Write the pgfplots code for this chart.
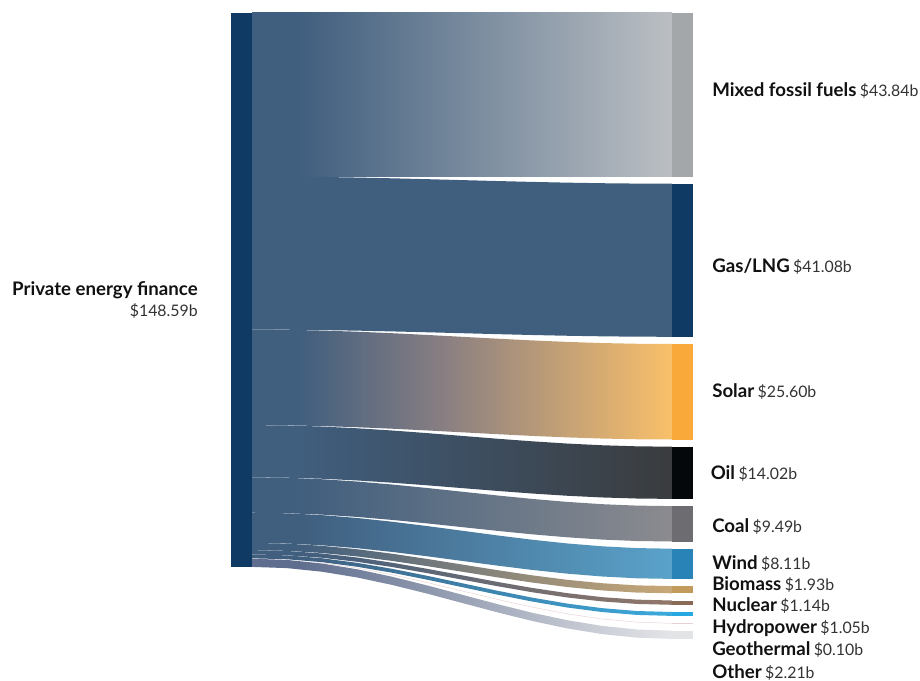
\documentclass[border=0pt]{standalone}
\usepackage{pgfplots}
\pgfplotsset{compat=1.18}
\usepackage{fontspec}
\setmainfont{Lato}
\definecolor{navy}{HTML}{0F3A63}
\definecolor{flowblue}{HTML}{405E7E}
\definecolor{mixednode}{HTML}{A4A7AA}
\definecolor{mixedflow}{HTML}{BBBFC3}
\definecolor{solarnode}{HTML}{F9A93A}
\definecolor{solarflow}{HTML}{F9C06A}
\definecolor{solarmid}{HTML}{8A7F82}
\definecolor{oilnode}{HTML}{05080A}
\definecolor{oilflow}{HTML}{3A3C3E}
\definecolor{coalnode}{HTML}{6D6C71}
\definecolor{coalflow}{HTML}{8B8B8F}
\definecolor{windnode}{HTML}{2A83B7}
\definecolor{windflow}{HTML}{5AA2CA}
\definecolor{bionode}{HTML}{C29A5C}
\definecolor{bioflow}{HTML}{C9A877}
\definecolor{nucnode}{HTML}{8A6A55}
\definecolor{nucflow}{HTML}{927769}
\definecolor{hydronode}{HTML}{27A8E0}
\definecolor{hydroflow}{HTML}{3BAADD}
\definecolor{geoline}{HTML}{E6D2D2}
\definecolor{othernode}{HTML}{E3E4E6}
\definecolor{otherflow}{HTML}{E4E5E8}
\definecolor{otherstart}{HTML}{5F6E8E}
\definecolor{valgray}{HTML}{333333}
\definecolor{lblblack}{HTML}{111111}
\pgfdeclarehorizontalshading{sMixed}{100bp}{color(0bp)=(flowblue); color(30.5bp)=(flowblue); color(75bp)=(mixedflow); color(100bp)=(mixedflow)}
\pgfdeclarehorizontalshading{sSolar}{100bp}{color(0bp)=(flowblue); color(30.5bp)=(flowblue); color(48bp)=(solarmid); color(75bp)=(solarflow); color(100bp)=(solarflow)}
\pgfdeclarehorizontalshading{sOil}{100bp}{color(0bp)=(flowblue); color(30.5bp)=(flowblue); color(75bp)=(oilflow); color(100bp)=(oilflow)}
\pgfdeclarehorizontalshading{sCoal}{100bp}{color(0bp)=(flowblue); color(30.5bp)=(flowblue); color(75bp)=(coalflow); color(100bp)=(coalflow)}
\pgfdeclarehorizontalshading{sWind}{100bp}{color(0bp)=(flowblue); color(30.5bp)=(flowblue); color(75bp)=(windflow); color(100bp)=(windflow)}
\pgfdeclarehorizontalshading{sBio}{100bp}{color(0bp)=(flowblue); color(30.5bp)=(flowblue); color(75bp)=(bioflow); color(100bp)=(bioflow)}
\pgfdeclarehorizontalshading{sNuc}{100bp}{color(0bp)=(flowblue); color(30.5bp)=(flowblue); color(75bp)=(nucflow); color(100bp)=(nucflow)}
\pgfdeclarehorizontalshading{sHydro}{100bp}{color(0bp)=(flowblue); color(30.5bp)=(flowblue); color(75bp)=(hydroflow); color(100bp)=(hydroflow)}
\pgfdeclarehorizontalshading{sOther}{100bp}{color(0bp)=(otherstart); color(30.5bp)=(otherstart); color(75bp)=(otherflow); color(100bp)=(otherflow)}
\newcommand\lbl[1]{{\color{lblblack}\fontsize{14}{16}\selectfont\bfseries #1}}
\newcommand\val[1]{{\color{valgray}\fontsize{11.9}{13}\selectfont #1}}
\begin{document}
\begin{tikzpicture}
\begin{axis}[
  x=0.75pt, y=0.75pt, y dir=reverse,
  xmin=0, xmax=920, ymin=0, ymax=681,
  hide axis, clip=false, no markers,
]
% ---- flows ----
\addplot[draw=none, shade, shading=sMixed] coordinates {(252,13)(672,13)(672,176.5)(252,176.5)} -- cycle;
\addplot[draw=none, fill=flowblue] coordinates {(252,176.5)(287,176.62)(322,176.98)(357,177.55)(392,178.3)(427,179.17)(462,180.1)(497,181.03)(532,181.9)(567,182.65)(602,183.22)(637,183.58)(672,183.7)
 (672,336.8)(637,336.68)(602,336.32)(567,335.75)(532,335)(497,334.13)(462,333.2)(427,332.27)(392,331.4)(357,330.65)(322,330.08)(287,329.72)(252,329.6)} -- cycle;
\addplot[draw=none, shade, shading=sSolar] coordinates {(252,329.6)(287,329.84)(322,330.56)(357,331.71)(392,333.2)(427,334.94)(462,336.8)(497,338.66)(532,340.4)(567,341.89)(602,343.04)(637,343.76)(672,344)
 (672,439.5)(637,439.26)(602,438.54)(567,437.39)(532,435.9)(497,434.16)(462,432.3)(427,430.44)(392,428.7)(357,427.21)(322,426.06)(287,425.34)(252,425.1)} -- cycle;
\addplot[draw=none, shade, shading=sOil] coordinates {(252,425.1)(287,425.47)(322,426.55)(357,428.26)(392,430.5)(427,433.1)(462,435.9)(497,438.7)(532,441.3)(567,443.54)(602,445.25)(637,446.33)(672,446.7)
 (672,498.9)(637,498.53)(602,497.45)(567,495.74)(532,493.5)(497,490.9)(462,488.1)(427,485.3)(392,482.7)(357,480.46)(322,478.75)(287,477.67)(252,477.3)} -- cycle;
\addplot[draw=none, shade, shading=sCoal] coordinates {(252,477.3)(287,477.79)(322,479.23)(357,481.52)(392,484.5)(427,487.97)(462,491.7)(497,495.43)(532,498.9)(567,501.88)(602,504.17)(637,505.61)(672,506.1)
 (672,541.5)(637,541.01)(602,539.57)(567,537.28)(532,534.3)(497,530.83)(462,527.1)(427,523.37)(392,519.9)(357,516.92)(322,514.63)(287,513.19)(252,512.7)} -- cycle;
\addplot[draw=none, shade, shading=sWind] coordinates {(252,512.7)(287,513.31)(322,515.11)(357,517.97)(392,521.7)(427,526.04)(462,530.7)(497,535.36)(532,539.7)(567,543.43)(602,546.29)(637,548.09)(672,548.7)
 (672,578.9)(637,578.29)(602,576.49)(567,573.63)(532,569.9)(497,565.56)(462,560.9)(427,556.24)(392,551.9)(357,548.17)(322,545.31)(287,543.51)(252,542.9)} -- cycle;
\addplot[draw=none, shade, shading=sBio] coordinates {(252,542.9)(287,543.63)(322,545.79)(357,549.22)(392,553.7)(427,558.91)(462,564.5)(497,570.09)(532,575.3)(567,579.78)(602,583.21)(637,585.37)(672,586.1)
 (672,593.3)(637,592.57)(602,590.41)(567,586.98)(532,582.5)(497,577.29)(462,571.7)(427,566.11)(392,560.9)(357,556.42)(322,552.99)(287,550.83)(252,550.1)} -- cycle;
\addplot[draw=none, shade, shading=sNuc] coordinates {(252,550.1)(287,550.96)(322,553.48)(357,557.48)(392,562.7)(427,568.78)(462,575.3)(497,581.82)(532,587.9)(567,593.12)(602,597.12)(637,599.64)(672,600.5)
 (672,604.8)(637,603.94)(602,601.42)(567,597.42)(532,592.2)(497,586.12)(462,579.6)(427,573.08)(392,567)(357,561.78)(322,557.78)(287,555.26)(252,554.4)} -- cycle;
\addplot[draw=none, shade, shading=sHydro] coordinates {(252,554.4)(287,555.38)(322,558.26)(357,562.83)(392,568.8)(427,575.75)(462,583.2)(497,590.65)(532,597.6)(567,603.57)(602,608.14)(637,611.02)(672,612)
 (672,615.9)(637,614.92)(602,612.04)(567,607.47)(532,601.5)(497,594.55)(462,587.1)(427,579.65)(392,572.7)(357,566.73)(322,562.16)(287,559.28)(252,558.3)} -- cycle;
\addplot[geoline, line width=0.35pt] coordinates {(300,563.7)(322,562.84)(357,567.99)(392,574.7)(427,582.51)(462,590.9)(497,599.29)(532,607.1)(567,613.81)(602,618.96)(637,622.2)(672,623.3)};
\addplot[draw=none, shade, shading=sOther] coordinates {(252,558.7)(287,559.92)(322,563.52)(357,569.24)(392,576.7)(427,585.38)(462,594.7)(497,604.02)(532,612.7)(567,620.16)(602,625.88)(637,629.48)(672,630.7)
 (672,638.9)(637,637.68)(602,634.08)(567,628.36)(532,620.9)(497,612.22)(462,602.9)(427,593.58)(392,584.9)(357,577.44)(322,571.72)(287,568.12)(252,566.9)} -- cycle;
% ---- nodes ----
\addplot[draw=none, fill=navy] coordinates {(231,13)(252,13)(252,566.9)(231,566.9)} -- cycle;
\addplot[draw=none, fill=mixednode] coordinates {(672,13)(693,13)(693,176.5)(672,176.5)} -- cycle;
\addplot[draw=none, fill=navy] coordinates {(672,183.7)(693,183.7)(693,336.8)(672,336.8)} -- cycle;
\addplot[draw=none, fill=solarnode] coordinates {(672,344)(693,344)(693,439.5)(672,439.5)} -- cycle;
\addplot[draw=none, fill=oilnode] coordinates {(672,446.7)(693,446.7)(693,498.9)(672,498.9)} -- cycle;
\addplot[draw=none, fill=coalnode] coordinates {(672,506.1)(693,506.1)(693,541.5)(672,541.5)} -- cycle;
\addplot[draw=none, fill=windnode] coordinates {(672,548.7)(693,548.7)(693,578.9)(672,578.9)} -- cycle;
\addplot[draw=none, fill=bionode] coordinates {(672,586.1)(693,586.1)(693,593.3)(672,593.3)} -- cycle;
\addplot[draw=none, fill=nucnode] coordinates {(672,600.5)(693,600.5)(693,604.8)(672,604.8)} -- cycle;
\addplot[draw=none, fill=hydronode] coordinates {(672,612)(693,612)(693,615.9)(672,615.9)} -- cycle;
\addplot[draw=none, fill=geoline] coordinates {(672,623.1)(693,623.1)(693,623.5)(672,623.5)} -- cycle;
\addplot[draw=none, fill=othernode] coordinates {(672,630.7)(693,630.7)(693,638.9)(672,638.9)} -- cycle;
% ---- labels ----
\node[anchor=base east, inner sep=0pt] at (axis cs:198,295) {\lbl{Private energy finance}};
\node[anchor=base east, inner sep=0pt] at (axis cs:198,316.7) {\val{\$148.59b}};
\node[anchor=base west, inner sep=0pt] at (axis cs:712,96.7) {\lbl{Mixed fossil fuels} \val{\$43.84b}};
\node[anchor=base west, inner sep=0pt] at (axis cs:712,272.3) {\lbl{Gas/LNG} \val{\$41.08b}};
\node[anchor=base west, inner sep=0pt] at (axis cs:712,397.3) {\lbl{Solar} \val{\$25.60b}};
\node[anchor=base west, inner sep=0pt] at (axis cs:710.5,479.3) {\lbl{Oil} \val{\$14.02b}};
\node[anchor=base west, inner sep=0pt] at (axis cs:712,532.3) {\lbl{Coal} \val{\$9.49b}};
\node[anchor=base west, inner sep=0pt] at (axis cs:712,569.3) {\lbl{Wind} \val{\$8.11b}};
\node[anchor=base west, inner sep=0pt] at (axis cs:712,590.7) {\lbl{Biomass} \val{\$1.93b}};
\node[anchor=base west, inner sep=0pt] at (axis cs:712,611) {\lbl{Nuclear} \val{\$1.14b}};
\node[anchor=base west, inner sep=0pt] at (axis cs:712,633.3) {\lbl{Hydropower} \val{\$1.05b}};
\node[anchor=base west, inner sep=0pt] at (axis cs:712,655.7) {\lbl{Geothermal} \val{\$0.10b}};
\node[anchor=base west, inner sep=0pt] at (axis cs:712,678.3) {\lbl{Other} \val{\$2.21b}};
\end{axis}
\path (current axis.south west) rectangle (current axis.north east);
\end{tikzpicture}
\end{document}
